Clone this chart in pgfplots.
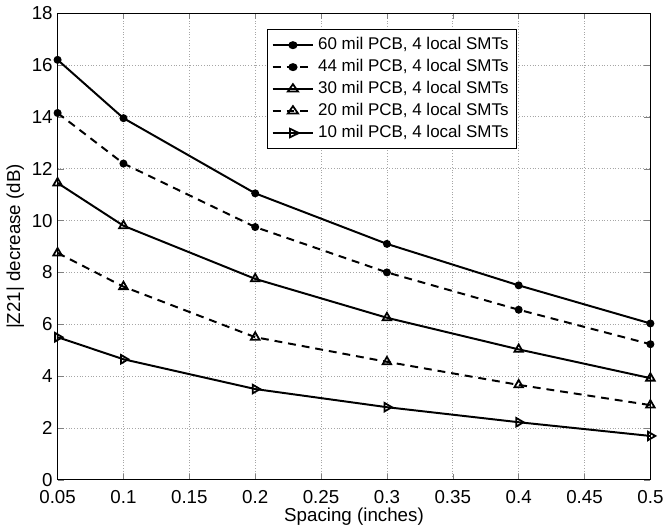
\documentclass[border=0pt]{standalone}
\usepackage{fontspec}
\setmainfont{Liberation Sans}
\usepackage{pgfplots}
\pgfplotsset{compat=1.18}

\begin{document}
\begin{tikzpicture}
\begin{axis}[
  width=300.5pt, height=236.5pt,
  scale only axis,
  xmin=0.05, xmax=0.5,
  ymin=0, ymax=18,
  xtick={0.05,0.1,0.15,0.2,0.25,0.3,0.35,0.4,0.45,0.5},
  xticklabels={0.05,0.1,0.15,0.2,0.25,0.3,0.35,0.4,0.45,0.5},
  ytick={0,2,...,18},
  xlabel={Spacing (inches)},
  ylabel={|Z21| decrease (dB)},
  xlabel style={yshift=5pt},
  ylabel style={yshift=-3pt},
  /pgf/number format/assume math mode=true,
  tick label style={font=\fontsize{9.5}{11}\selectfont},
  xticklabel style={yshift=-2pt},
  yticklabel style={xshift=1pt},
  label style={font=\fontsize{9.5}{11}\selectfont},
  tick align=inside,
  major tick length=3pt,
  grid=major,
  grid style={densely dotted, gray!70, line width=0.4pt},
  axis line style={line width=0.6pt},
  legend style={at={(0.775,0.966)}, anchor=north east,
    font=\fontsize{8.6}{10.5}\selectfont, draw=black, line width=0.6pt,
    row sep=-0.6pt, inner sep=2pt},
  legend image post style={xscale=1.2},
  legend cell align=left,
  every axis plot/.append style={black, line width=1pt},
]
\addplot[mark=*, mark size=1.5pt] coordinates {(0.05,16.2)(0.1,13.95)(0.2,11.05)(0.3,9.1)(0.4,7.5)(0.5,6.03)};
\addlegendentry{60 mil PCB, 4 local SMTs}
\addplot[dashed, dash pattern=on 4pt off 3pt, mark=*, mark size=1.5pt, mark options={solid}] coordinates {(0.05,14.15)(0.1,12.2)(0.2,9.75)(0.3,8.0)(0.4,6.56)(0.5,5.23)};
\addlegendentry{44 mil PCB, 4 local SMTs}
\addplot[mark=triangle, mark size=2.5pt, mark options={solid, line width=0.9pt}] coordinates {(0.05,11.45)(0.1,9.8)(0.2,7.75)(0.3,6.25)(0.4,5.03)(0.5,3.92)};
\addlegendentry{30 mil PCB, 4 local SMTs}
\addplot[dashed, dash pattern=on 4pt off 3pt, mark=triangle, mark size=2.5pt, mark options={solid, line width=0.9pt}] coordinates {(0.05,8.75)(0.1,7.45)(0.2,5.5)(0.3,4.55)(0.4,3.66)(0.5,2.88)};
\addlegendentry{20 mil PCB, 4 local SMTs}
\addplot[mark=triangle, mark size=2.5pt, mark options={solid, line width=0.9pt, rotate=-90}] coordinates {(0.05,5.5)(0.1,4.65)(0.2,3.5)(0.3,2.8)(0.4,2.22)(0.5,1.69)};
\addlegendentry{10 mil PCB, 4 local SMTs}
\end{axis}
\end{tikzpicture}
\end{document}
